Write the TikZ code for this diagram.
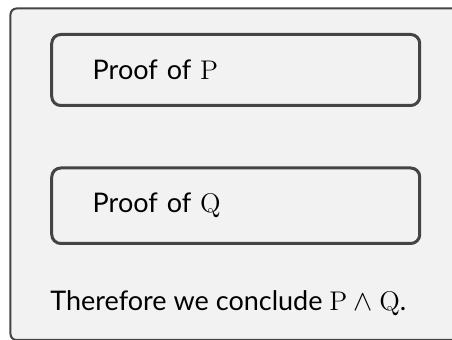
\documentclass[tikz,border=0pt]{standalone}
\usepackage{fontspec}
\setsansfont{Lato}
\usepackage{xcolor}
\usepackage{tikz}

\definecolor{panel}{HTML}{F2F2F2}
\definecolor{rim}{HTML}{444444}

\begin{document}
\begin{tikzpicture}[
    x=0.5pt,y=-0.5pt,
    font=\sffamily\fontsize{13.5}{16}\selectfont,
    frame/.style={
        draw=rim,
        fill=panel,
        line width=1pt,
        rounded corners=3pt
    },
    proofbox/.style={
        draw=rim,
        line width=1.5pt,
        rounded corners=4.5pt,
        text width=143pt,
        inner xsep=20.5pt,
        inner ysep=0pt,
        minimum height=35.5pt,
        align=left
    }
]

\useasboundingbox (0,0) rectangle (452,340);
\clip (0,0) rectangle (452,340);

% outer panel runs past the right and bottom edges
\draw[frame] (10.5,8.5) rectangle (480,340);

\node[proofbox] (proofP) at (235.75,70) {Proof of $\mathrm{P}$};
\node[proofbox, minimum height=37.75pt] (proofQ) at (235.75,205.75) {Proof of $\mathrm{Q}$};

\node[anchor=west, inner sep=0pt] (concl) at (50,303)
    {Therefore we conclude $\mathrm{P} \wedge \mathrm{Q}$.};

\end{tikzpicture}
\end{document}
